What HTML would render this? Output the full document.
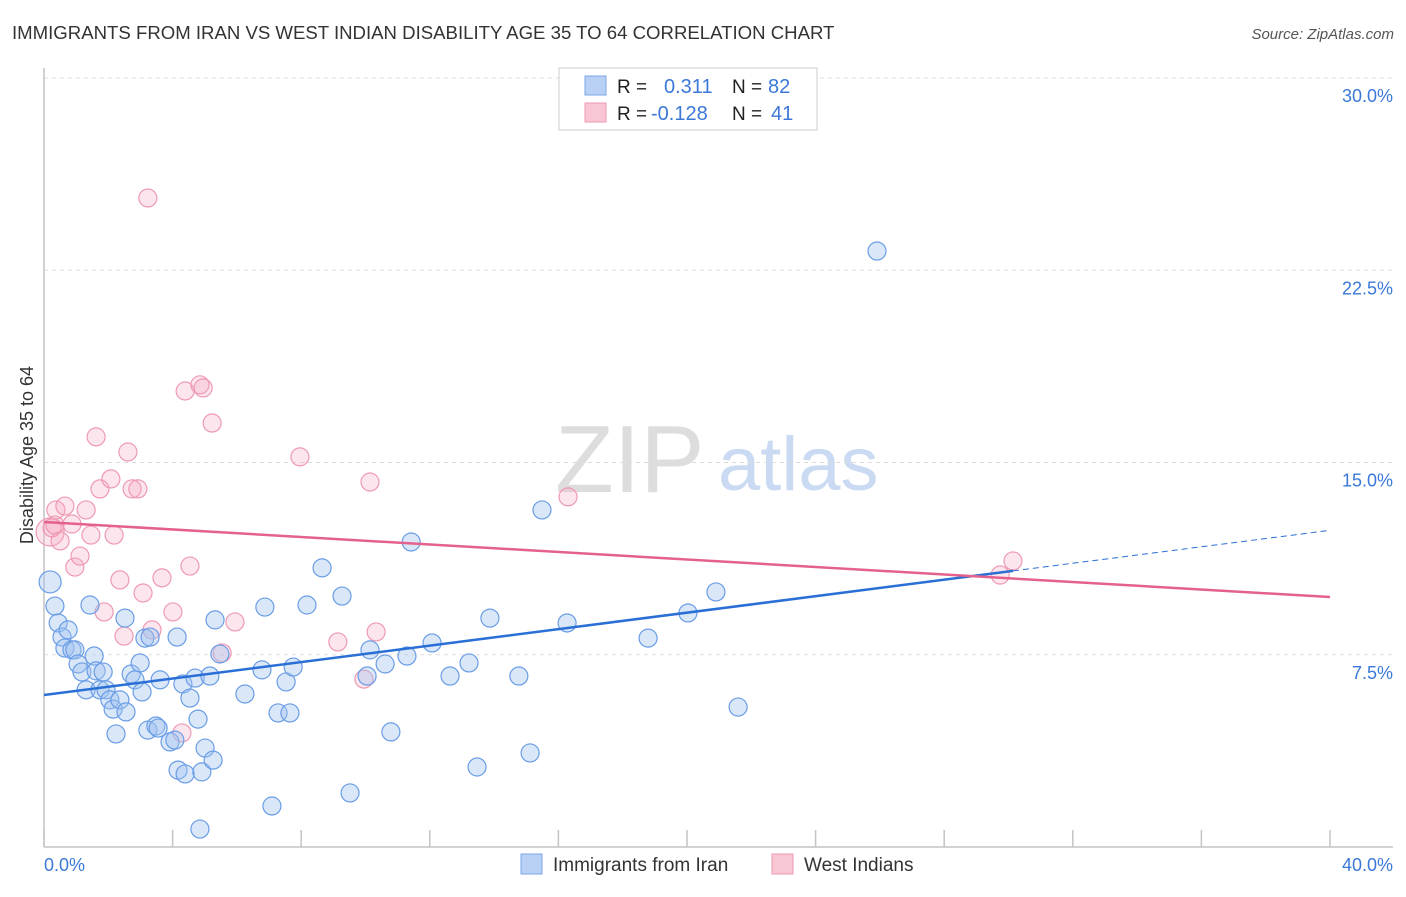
<!DOCTYPE html>
<html><head><meta charset="utf-8"><style>
body{margin:0;background:#fff;font-family:"Liberation Sans",sans-serif}
svg text{font-family:"Liberation Sans",sans-serif}
</style></head><body>
<svg id="chart" width="1406" height="892" viewBox="0 0 1406 892">
<text x="12" y="39" font-size="18.6" fill="#333">IMMIGRANTS FROM IRAN VS WEST INDIAN DISABILITY AGE 35 TO 64 CORRELATION CHART</text>
<text x="1394" y="39" font-size="15" fill="#555" font-style="italic" text-anchor="end">Source: ZipAtlas.com</text>
<g>
<text x="555" y="492" font-size="96" fill="#ddd" font-family="Liberation Serif">ZIP</text>
<text x="718" y="490" font-size="76" fill="#c9daf2">atlas</text>
</g>
<g id="grid"></g>
<g id="axes"></g>
<g id="marks"></g>
<g>
<rect x="559" y="68" width="258" height="62" fill="#fff" stroke="#ccc"/>
<rect x="585" y="76" width="21" height="19" fill="#b8d0f4" stroke="#7aa6e6"/>
<rect x="585" y="103" width="21" height="19" fill="#f9c6d4" stroke="#ee9ab2"/>
<text x="617" y="93" font-size="19" fill="#222">R =</text>
<text x="664" y="93" font-size="20" fill="#3b78d8">0.311</text>
<text x="732" y="93" font-size="19" fill="#222">N =</text>
<text x="768" y="93" font-size="20" fill="#3b78d8">82</text>
<text x="617" y="120" font-size="19" fill="#222">R =</text>
<text x="651" y="120" font-size="20" fill="#3b78d8">-0.128</text>
<text x="732" y="120" font-size="19" fill="#222">N =</text>
<text x="771" y="120" font-size="20" fill="#3b78d8">41</text>
</g>
<g>
<rect x="521" y="854" width="21" height="20" fill="#b8d0f4" stroke="#7aa6e6"/>
<text x="553" y="871" font-size="19" fill="#333">Immigrants from Iran</text>
<rect x="772" y="854" width="21" height="20" fill="#f9c6d4" stroke="#ee9ab2"/>
<text x="804" y="871" font-size="19" fill="#333">West Indians</text>
</g>
<text transform="translate(33,455) rotate(-90)" font-size="18" fill="#333" text-anchor="middle">Disability Age 35 to 64</text>
</svg>
<script>
const yTicks=[7.5,15.0,22.5,30.0];
const yTickLabels=["7.5%","15.0%","22.5%","30.0%"];
const xTickLabels=["0.0%","40.0%"];
const blueX=[0.19,0.34,0.44,0.56,0.75,0.65,0.87,0.96,1.06,1.18,1.43,1.56,1.31,1.62,1.74,1.84,1.93,2.05,2.15,2.24,2.36,2.55,2.52,2.71,2.83,2.99,3.05,3.14,3.30,3.23,3.48,3.55,3.61,3.92,4.07,4.14,4.17,4.32,4.39,4.54,4.70,4.79,4.85,4.91,5.01,5.16,5.26,5.32,5.47,6.25,6.78,6.87,7.09,7.28,7.53,7.65,7.75,8.18,8.65,9.27,9.52,10.05,10.14,10.61,10.79,11.29,11.42,12.07,12.63,13.22,13.47,13.87,14.77,15.12,15.49,16.27,18.79,20.03,20.90,21.59,25.91];
const blueY=[10.34,9.40,8.74,8.19,8.47,7.76,7.69,7.69,7.14,6.83,9.44,7.45,6.13,6.87,6.13,6.83,6.13,5.74,5.38,4.41,5.74,5.27,8.93,6.75,6.52,7.18,6.05,8.15,8.19,4.56,4.72,4.64,6.52,4.10,4.17,8.19,3.00,6.36,2.85,5.81,6.59,4.99,0.70,2.93,3.86,6.67,3.39,8.86,7.53,5.97,6.91,9.36,1.60,5.23,6.44,5.23,7.02,9.44,10.89,9.79,2.11,6.67,7.69,7.14,4.49,7.45,11.90,7.96,6.67,7.18,3.12,8.93,6.67,3.67,13.15,8.74,8.15,9.13,9.95,5.46,23.25];
const pinkX=[0.19,0.25,0.34,0.50,0.37,0.65,0.87,0.96,1.12,1.31,1.46,1.74,1.62,1.87,2.08,2.18,2.36,2.49,2.61,2.74,2.92,3.08,3.23,3.36,3.67,4.01,4.29,4.39,4.54,4.85,4.95,5.23,5.54,5.94,7.96,9.14,9.95,10.14,10.33,16.30,29.74,30.14];
const pinkY=[12.29,12.45,12.56,11.94,13.15,13.30,12.60,10.92,11.35,13.15,12.17,13.97,16.00,9.17,14.36,12.17,10.42,8.23,15.41,13.97,13.97,9.91,25.32,8.47,10.50,9.17,4.45,17.79,10.96,18.03,17.91,16.54,7.57,8.78,15.22,8.00,6.55,14.24,8.39,13.66,10.61,11.16];
const blueTrend=[5.93,0.1606];
const pinkTrend=[12.68,-0.0732];
const NS="http://www.w3.org/2000/svg";
const sx=v=>44+v/40*1286;
const sy=v=>847-v/30*769;
function mk(tag,attrs,parent){const e=document.createElementNS(NS,tag);for(const k in attrs)e.setAttribute(k,attrs[k]);parent.appendChild(e);return e;}
const grid=document.getElementById('grid'),axes=document.getElementById('axes'),marks=document.getElementById('marks');
yTicks.forEach((t,i)=>{
 const l=mk('line',{x1:44,x2:1393,y1:sy(t),y2:sy(t),stroke:'#ddd','stroke-dasharray':'4,4'},grid);
 
 
 const tx=mk('text',{x:1393,y:sy(t)+24,'font-size':18,fill:'#3b78d8','text-anchor':'end'},grid);
 tx.textContent=yTickLabels[i];
 
 
});
let a=mk('line',{x1:44,x2:44,y1:68,y2:847,stroke:'#c4c4c4','stroke-width':1.5},axes);


a=mk('line',{x1:44,x2:1393,y1:847,y2:847,stroke:'#c4c4c4','stroke-width':1.5},axes);


for(let i=0;i<=10;i++){
 const t=mk('line',{x1:sx(i*4),x2:sx(i*4),y1:830,y2:847,stroke:'#c4c4c4','stroke-width':1.5},axes);
 
 
}
[[0,'start',44],[40,'end',1393]].forEach((d,i)=>{
 const tx=mk('text',{x:d[2],y:871,'font-size':18,fill:'#3b78d8','text-anchor':d[1]},axes);
 tx.textContent=xTickLabels[i];
 
 
});
function dot(x,y,r,fill,stroke,name){
 const c=mk('circle',{cx:sx(x),cy:sy(y),r:r,fill:fill,stroke:stroke,'stroke-width':1.2},marks);
 
 
}
pinkX.forEach((x,i)=>dot(x,pinkY[i],i===0?14:9,'rgba(246,170,195,0.3)','#ee9ab2','west-indians-point'));
blueX.forEach((x,i)=>dot(x,blueY[i],i===0?11:9,'rgba(160,195,240,0.4)','#6a9de6','iran-point'));
let ln=mk('line',{x1:sx(0),y1:sy(blueTrend[0]),x2:sx(30.14),y2:sy(blueTrend[0]+blueTrend[1]*30.14),stroke:'#2a6fd6','stroke-width':2.5},marks);


ln=mk('line',{x1:sx(30.14),y1:sy(blueTrend[0]+blueTrend[1]*30.14),x2:sx(40),y2:sy(blueTrend[0]+blueTrend[1]*40),stroke:'#2a6fd6','stroke-width':1,'stroke-dasharray':'6,4'},marks);


ln=mk('line',{x1:sx(0),y1:sy(pinkTrend[0]),x2:sx(40),y2:sy(pinkTrend[0]+pinkTrend[1]*40),stroke:'#e5618d','stroke-width':2.5},marks);


</script>
</body></html>
